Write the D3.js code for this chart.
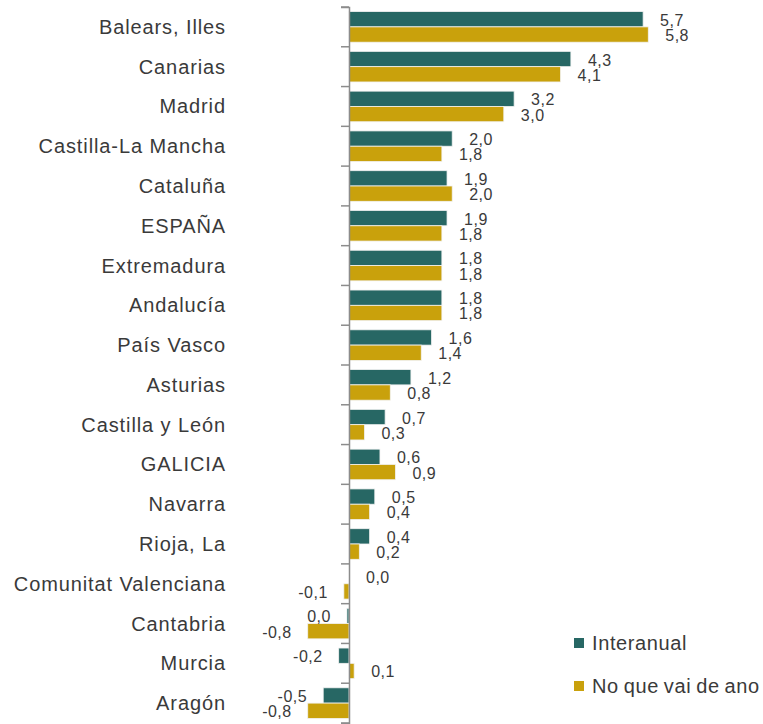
<!DOCTYPE html>
<html><head><meta charset="utf-8">
<script src="https://cdn.jsdelivr.net/npm/d3@7"></script>
<style>body{margin:0;background:#fff}svg{display:block}</style>
</head><body>
<script>
const categories = ["Balears, Illes","Canarias","Madrid","Castilla-La Mancha","Cataluña","ESPAÑA","Extremadura","Andalucía","País Vasco","Asturias","Castilla y León","GALICIA","Navarra","Rioja, La","Comunitat Valenciana","Cantabria","Murcia","Aragón"];
const interanual = [5.7,4.3,3.2,2.0,1.9,1.9,1.8,1.8,1.6,1.2,0.7,0.6,0.5,0.4,0.0,-0.04,-0.2,-0.5];
const noQueVai = [5.8,4.1,3.0,1.8,2.0,1.8,1.8,1.8,1.4,0.8,0.3,0.9,0.4,0.2,-0.1,-0.8,0.1,-0.8];
const seriesNames = ["Interanual","No que vai de ano"];
const colors = ["#276764","#C9A10C"];

const W = 763, H = 724;
const svg = d3.select("body").append("svg").attr("width", W).attr("height", H);
const FONT = "Liberation Sans, Arial, sans-serif";
const TXT = "#3a3a3a";

const x = d3.scaleLinear().domain([-1, 6]).range([297.4, 658.6]);
const y = d3.scaleBand().domain(categories).range([7, 723]).paddingInner(0).paddingOuter(0);
const ys = d3.scaleBand().domain(seriesNames).range([0, y.bandwidth()]).paddingInner(0).paddingOuter(0.3);

const data = [];
categories.forEach((c, i) => {
  data.push({c, s: seriesNames[0], v: interanual[i], k: 0});
  data.push({c, s: seriesNames[1], v: noQueVai[i], k: 1});
});

const fmt = v => Math.abs(v) < 0.05 ? "0,0" : d3.format(".1f")(v).replace(".", ",").replace("−","-");

svg.append("g").selectAll("rect").data(data).join("rect")
  .attr("x", d => x(Math.min(0, d.v)))
  .attr("y", d => y(d.c) + ys(d.s))
  .attr("width", d => Math.abs(x(d.v) - x(0)))
  .attr("height", ys.bandwidth())
  .attr("fill", d => colors[d.k])
  .attr("stroke", "#f2f2f2").attr("stroke-width", 0.8);

// axis
const axis = d3.axisLeft(y).tickSize(8).tickFormat("").tickSizeOuter(8);
const ag = svg.append("g").attr("transform", `translate(${x(0)},0)`).call(axis);
ag.select(".domain").attr("stroke", "#8c8c8c").attr("stroke-width", 1.5);
ag.selectAll(".tick").remove();
const bounds = d3.range(categories.length + 1).map(i => y.range()[0] + i * y.step());
ag.selectAll("line.b").data(bounds).join("line").attr("class","b")
  .attr("x1", -8).attr("x2", 0).attr("y1", d => d).attr("y2", d => d)
  .attr("stroke", "#8c8c8c").attr("stroke-width", 1.5);

// category labels
svg.append("g").selectAll("text").data(categories).join("text")
  .attr("x", 226).attr("y", d => y(d) + y.bandwidth() / 2)
  .attr("text-anchor", "end").attr("dominant-baseline", "central")
  .attr("font-family", FONT).attr("font-size", 20)
  .attr("letter-spacing", 0.9).attr("fill", TXT).text(d => d);

// value labels
svg.append("g").selectAll("text").data(data).join("text")
  .attr("x", d => d.v >= 0 ? x(d.v) + 17 : x(d.v) - 16)
  .attr("y", d => y(d.c) + ys(d.s) + ys.bandwidth() / 2 + 1)
  .attr("text-anchor", d => d.v >= 0 ? "start" : "end")
  .attr("dominant-baseline", "central")
  .attr("font-family", FONT).attr("font-size", 16)
  .attr("letter-spacing", 0.5).attr("fill", TXT).text(d => fmt(d.v));

// legend
const lg = svg.append("g");
seriesNames.forEach((s, i) => {
  const ly = 643 + i * 43;
  lg.append("rect").attr("x", 574).attr("y", ly - 5).attr("width", 10).attr("height", 10).attr("fill", colors[i]);
  lg.append("text").attr("x", 592).attr("y", ly).attr("dominant-baseline", "central")
    .attr("font-family", FONT).attr("font-size", 20)
    .attr("letter-spacing", 0.6).attr("word-spacing", -1.2).attr("fill", TXT).text(s);
});
</script>
</body></html>
